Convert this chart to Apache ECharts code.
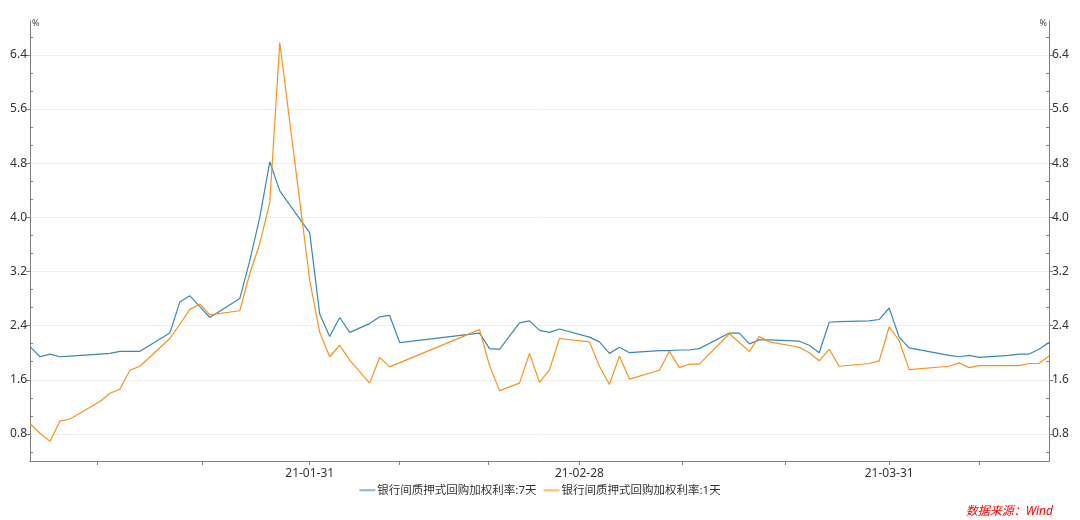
<!DOCTYPE html>
<html>
<head>
<meta charset="utf-8">
<script src="https://cdn.jsdelivr.net/npm/echarts@6/dist/echarts.min.js"></script>
<style>
html,body{margin:0;padding:0;background:#fff;}
#chart{width:1080px;height:520px;}
</style>
</head>
<body>
<div id="chart"></div>
<script>
// ---- data ----
const dates = [
 '2021-01-04','2021-01-05','2021-01-06','2021-01-07','2021-01-08',
 '2021-01-11','2021-01-12','2021-01-13','2021-01-14','2021-01-15',
 '2021-01-18','2021-01-19','2021-01-20','2021-01-21','2021-01-22',
 '2021-01-25','2021-01-26','2021-01-27','2021-01-28','2021-01-29',
 '2021-02-01','2021-02-02','2021-02-03','2021-02-04','2021-02-05',
 '2021-02-07','2021-02-08','2021-02-09','2021-02-10',
 '2021-02-18','2021-02-19','2021-02-20',
 '2021-02-22','2021-02-23','2021-02-24','2021-02-25','2021-02-26',
 '2021-03-01','2021-03-02','2021-03-03','2021-03-04','2021-03-05',
 '2021-03-08','2021-03-09','2021-03-10','2021-03-11','2021-03-12',
 '2021-03-15','2021-03-16','2021-03-17','2021-03-18','2021-03-19',
 '2021-03-22','2021-03-23','2021-03-24','2021-03-25','2021-03-26',
 '2021-03-29','2021-03-30','2021-03-31','2021-04-01','2021-04-02',
 '2021-04-06','2021-04-07','2021-04-08','2021-04-09',
 '2021-04-12','2021-04-13','2021-04-14','2021-04-15','2021-04-16'
];
const rate7d = [
 2.09,1.94,1.98,1.94,1.95,
 1.98,1.99,2.02,2.02,2.02,
 2.29,2.75,2.84,2.68,2.52,
 2.80,3.36,4.00,4.82,4.39,
 3.77,2.57,2.24,2.52,2.30,
 2.43,2.53,2.55,2.15,
 2.29,2.06,2.05,
 2.44,2.47,2.33,2.30,2.35,
 2.23,2.16,1.99,2.08,2.00,
 2.03,2.03,2.04,2.04,2.06,
 2.29,2.29,2.13,2.19,2.19,
 2.17,2.11,2.00,2.45,2.46,
 2.47,2.49,2.66,2.23,2.07,
 1.96,1.94,1.96,1.93,
 1.96,1.98,1.98,2.05,2.15
];
const rate1d = [
 0.95,0.81,0.69,0.99,1.02,
 1.28,1.40,1.46,1.74,1.80,
 2.21,2.42,2.64,2.72,2.56,
 2.62,3.17,3.61,4.22,6.58,
 3.07,2.30,1.94,2.11,1.89,
 1.55,1.93,1.79,null,
 2.34,1.81,1.44,
 1.55,1.99,1.56,1.75,2.21,
 2.16,1.80,1.53,1.95,1.61,
 1.74,2.02,1.78,1.83,1.83,
 2.28,2.15,2.02,2.24,2.16,
 2.08,2.00,1.88,2.05,1.80,
 1.84,1.88,2.38,2.18,1.75,
 1.80,1.85,1.78,1.81,
 1.81,1.81,1.84,1.84,1.95
];
const seriesNames = ['银行间质押式回购加权利率:7天','银行间质押式回购加权利率:1天'];
const yLabelValues = [0.8,1.6,2.4,3.2,4.0,4.8,5.6,6.4];
const xTickDates = ['2021-01-10 17:00','2021-01-21 07:00','2021-02-01 00:00','2021-02-09 22:00','2021-02-18 22:00',
                    '2021-02-28 00:00','2021-03-10 07:00','2021-03-20 14:00','2021-03-31 00:00','2021-04-09 00:00'];
const xLabelDates = ['2021-02-01','2021-02-28','2021-03-31'];
const xLabelTexts = ['21-01-31','21-02-28','21-03-31'];

// ---- helpers ----
function ts(s) {
  const m = s.match(/(\d+)-(\d+)-(\d+)(?:\s+(\d+):(\d+))?/);
  return Date.UTC(+m[1], +m[2] - 1, +m[3], m[4] ? +m[4] : 0, m[5] ? +m[5] : 0);
}
const yMin = 0.4, yMax = 6.9;
const yMinor = [];
for (let k = -1; k <= 22; k++) { if (k % 3 !== 0) yMinor.push(+(0.8 + k * 0.8 / 3).toFixed(4)); }
const xLabelTs = xLabelDates.map(ts);

const axisColor = '#808080';
const textColor = '#333';
const font = "'Noto Sans', 'Noto Sans CJK SC', sans-serif";
const colors = ['#3a87b4', '#f7921e'];

function yAxisMajor(pos) {
  return {
    type: 'value', position: pos, min: yMin, max: yMax,
    name: '%', nameLocation: 'end', nameGap: -2,
    nameTextStyle: { fontSize: 9, color: '#444', align: pos === 'left' ? 'left' : 'right',
                     verticalAlign: 'middle', padding: pos === 'left' ? [0,0,0,2] : [0,2,0,0], fontFamily: font },
    axisLine: { show: true, lineStyle: { color: axisColor, width: 1 } },
    axisTick: { show: true, inside: false, length: 4, customValues: yLabelValues, lineStyle: { color: axisColor } },
    axisLabel: { show: true, customValues: yLabelValues, margin: 3, color: textColor, fontSize: 12, fontFamily: font,
                 formatter: v => Number(v).toFixed(1) },
    splitLine: { show: pos === 'left', lineStyle: { color: '#f0f0f0', width: 1 } }
  };
}
function yAxisMinor(pos) {
  return {
    type: 'value', position: pos, min: yMin, max: yMax,
    axisLine: { show: false },
    axisTick: { show: true, inside: true, length: 3, customValues: yMinor, lineStyle: { color: axisColor } },
    axisLabel: { show: false },
    splitLine: { show: false }
  };
}

const chart = echarts.init(document.getElementById('chart'), null, { renderer: 'canvas' });
chart.setOption({
  animation: false,
  backgroundColor: '#fff',
  color: colors,
  grid: { left: 30, right: 31, top: 21, bottom: 59, containLabel: false },
  legend: {
    bottom: 19, left: 'center', itemWidth: 16, itemHeight: 2, itemGap: 7, icon: 'rect',
    textStyle: { fontSize: 11.5, color: textColor, fontFamily: font, padding: [0,0,0,-3] },
    data: seriesNames.map((n, i) => ({ name: n, itemStyle: { color: colors[i], opacity: 0.6 } }))
  },
  xAxis: {
    type: 'value', min: ts(dates[0]), max: ts(dates[dates.length - 1]),
    axisLine: { show: true, lineStyle: { color: axisColor } },
    axisTick: { show: true, length: 4, customValues: xTickDates.map(ts), lineStyle: { color: axisColor } },
    axisLabel: {
      customValues: xLabelTs, color: textColor, fontSize: 12, fontFamily: font, margin: 7,
      formatter: v => { let i = 0, best = Infinity; xLabelTs.forEach((t, j) => { const d = Math.abs(t - v); if (d < best) { best = d; i = j; } }); return xLabelTexts[i]; }
    },
    splitLine: { show: false }
  },
  yAxis: [yAxisMajor('left'), yAxisMinor('left'), yAxisMajor('right'), yAxisMinor('right')],
  series: [
    { name: seriesNames[0], type: 'line', yAxisIndex: 0, symbol: 'none', connectNulls: true,
      lineStyle: { width: 1.2 }, data: dates.map((d, i) => [ts(d), rate7d[i]]) },
    { name: seriesNames[1], type: 'line', yAxisIndex: 0, symbol: 'none', connectNulls: true,
      lineStyle: { width: 1.2 }, data: dates.map((d, i) => [ts(d), rate1d[i]]) }
  ],
  graphic: [{
    type: 'text', right: 27, bottom: 2,
    style: { text: '数据来源：Wind', fill: '#ff0000', fontSize: 12, fontStyle: 'italic', fontFamily: font }
  }]
});
</script>
</body>
</html>
